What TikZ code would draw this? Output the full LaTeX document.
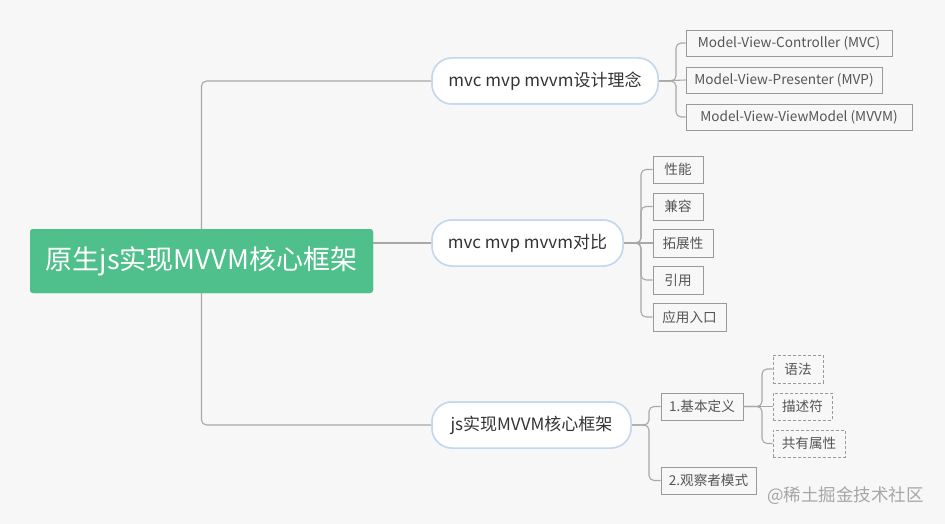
\documentclass[tikz,border=0pt]{standalone}
\usepackage{fontspec}
\setmainfont{Noto Sans CJK SC}
\definecolor{bg}{HTML}{F7F7F7}
\definecolor{rootgreen}{HTML}{4FC08B}
\definecolor{conn}{HTML}{A8A8A8}
\definecolor{pillborder}{HTML}{C3D8EE}
\definecolor{boxborder}{HTML}{9A9A9A}
\definecolor{txt}{HTML}{555555}
\definecolor{pilltxt}{HTML}{333333}
\begin{document}
\begin{tikzpicture}[x=1pt,y=-1pt,
  rootbox/.style={fill=rootgreen,draw=none,rounded corners=3pt,minimum width=343pt,minimum height=64pt,inner sep=0pt,text=white,font=\fontsize{27}{31}\selectfont},
  pill/.style={fill=white,draw=pillborder,line width=1.5pt,rounded corners=20pt,minimum height=46pt,inner sep=0pt,text=pilltxt,font=\fontsize{17}{20}\selectfont},
  leaf/.style={fill=none,draw=boxborder,line width=0.8pt,minimum height=26pt,inner sep=0pt,text=txt,font=\fontsize{13.6}{15}\selectfont},
  dleaf/.style={leaf,dashed,dash pattern=on 3pt off 2pt},
  link/.style={draw=conn,line width=1.1pt,rounded corners=5pt}
]
\fill[bg] (0,0) rectangle (945,524);
\useasboundingbox (0,0) rectangle (945,524);

% nodes
\node[rootbox] (root) at (201.5,261) {原生js实现MVVM核心框架};
\node[pill,minimum width=226pt] (b1) at (545,81) {mvc mvp mvvm设计理念};
\node[pill,minimum width=191pt] (b2) at (527.5,243) {mvc mvp mvvm对比};
\node[pill,minimum width=199pt] (b3) at (531.5,425) {js实现MVVM核心框架};

\node[leaf,minimum width=206pt] (c11) at (789,43) {Model-View-Controller (MVC)};
\node[leaf,minimum width=196pt] (c12) at (784,80) {Model-View-Presenter (MVP)};
\node[leaf,minimum width=226pt] (c13) at (799,117) {Model-View-ViewModel (MVVM)};

\node[leaf,minimum width=50pt,minimum height=27pt] (c21) at (678,169.5) {性能};
\node[leaf,minimum width=50pt,minimum height=27pt] (c22) at (678,206.5) {兼容};
\node[leaf,minimum width=60pt,minimum height=28pt] (c23) at (683,243) {拓展性};
\node[leaf,minimum width=50pt,minimum height=28pt] (c24) at (678,280) {引用};
\node[leaf,minimum width=73pt,minimum height=28pt] (c25) at (689.5,317) {应用入口};

\node[leaf,minimum width=82pt,minimum height=27pt] (c31) at (702,406.5) {1.基本定义};
\node[leaf,minimum width=95pt,minimum height=27pt] (c32) at (708.5,480.5) {2.观察者模式};

\node[dleaf,minimum width=50pt,minimum height=28pt] (d1) at (798,369) {语法};
\node[dleaf,minimum width=59pt,minimum height=27pt] (d2) at (802.5,406.5) {描述符};
\node[dleaf,minimum width=72pt,minimum height=27pt] (d3) at (809,443.5) {共有属性};

\node[text=black!35,font=\fontsize{17.5}{20}\selectfont,anchor=west,inner sep=0pt] (wm) at (767,496) {@稀土掘金技术社区};

% connectors from root
\path[link] (root.north) |- (b1.west);
\path[link] (root.south) |- (b3.west);
\path[link] (root.east |- b2.west) -- (b2.west);

% branch 1
\coordinate (k1) at (676,81);
\path[link] (b1.east) -- (k1 |- b1.east) |- (c11.west);
\path[link] (b1.east) -- (c12.west);
\path[link] (b1.east) -- (k1 |- b1.east) |- (c13.west);

% branch 2
\coordinate (k2) at (641,243);
\path[link] (b2.east) -- (k2) |- (c21.west);
\path[link] (b2.east) -- (k2) |- (c22.west);
\path[link] (b2.east) -- (c23.west);
\path[link] (b2.east) -- (k2) |- (c24.west);
\path[link] (b2.east) -- (k2) |- (c25.west);

% branch 3
\coordinate (k3) at (649,425);
\path[link] (b3.east) -- (k3) |- (c31.west);
\path[link] (b3.east) -- (k3) |- (c32.west);

% 1.基本定义 children
\coordinate (k4) at (762,406.5);
\path[link] (c31.east) -- (k4) |- (d1.west);
\path[link] (c31.east) -- (d2.west);
\path[link] (c31.east) -- (k4) |- (d3.west);

% redraw main nodes above the lines
\node[rootbox] at (root) {原生js实现MVVM核心框架};
\node[pill,minimum width=226pt] at (b1) {mvc mvp mvvm设计理念};
\node[pill,minimum width=191pt] at (b2) {mvc mvp mvvm对比};
\node[pill,minimum width=199pt] at (b3) {js实现MVVM核心框架};
\end{tikzpicture}
\end{document}
